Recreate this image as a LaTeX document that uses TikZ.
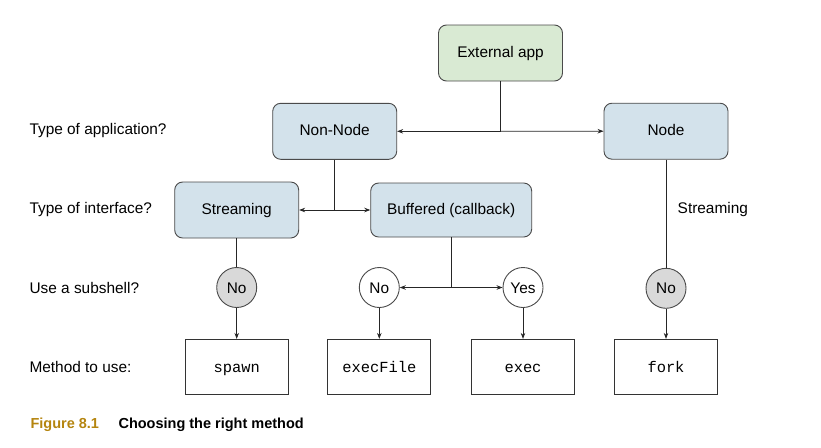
\documentclass[tikz,border=0pt]{standalone}
\usepackage{fontspec}
\setmainfont{Liberation Sans}
\setmonofont{Liberation Mono}
\usetikzlibrary{arrows.meta}
\definecolor{greenfill}{HTML}{D9EAD3}
\definecolor{bluefill}{HTML}{D3E2EB}
\definecolor{greyfill}{HTML}{D9D9D9}
\definecolor{edgecol}{HTML}{4A4A4A}
\definecolor{capcol}{HTML}{B5850F}
\begin{document}
\begin{tikzpicture}[x=1pt,y=-1pt,
  font=\fontsize{15.4}{18}\selectfont,
  rbox/.style={draw=edgecol, line width=0.9pt, rounded corners=8pt, fill=bluefill,
    minimum width=124pt, minimum height=56pt, inner sep=0pt, text height=11pt, text depth=3pt},
  gbox/.style={rbox, fill=greenfill},
  mbox/.style={draw=black!80, line width=0.8pt, fill=white, minimum width=103pt,
    minimum height=55pt, inner sep=0pt, text height=13pt, text depth=2pt,
    font=\fontsize{15.4}{18}\selectfont\ttfamily},
  circw/.style={circle, draw=edgecol, line width=0.9pt, fill=white, minimum size=40pt,
    inner sep=0pt, text height=11pt, text depth=0pt},
  circg/.style={circw, fill=greyfill},
  qlabel/.style={anchor=west},
  conn/.style={draw=black!85, line width=0.8pt},
  arr/.style={-{Stealth[length=6pt,width=4.5pt]}}
]
\useasboundingbox (0,0) rectangle (821,447);

% row labels
\node[qlabel] (q1) at (26,131) {Type of application?};
\node[qlabel] (q2) at (26,210) {Type of interface?};
\node[qlabel] (q3) at (26,288) {Use a subshell?};
\node[qlabel] (q4) at (26,367) {Method to use:};

% boxes
\node[gbox] (ext) at (500.5,53) {External app};
\node[rbox] (nonnode) at (334.7,131.3) {Non-Node};
\node[rbox] (nodeb) at (666,131.2) {Node};
\node[rbox] (stream) at (236.7,210) {Streaming};
\node[rbox, minimum width=161pt, minimum height=54pt] (buff) at (451.2,210) {Buffered (callback)};

% circles
\node[circg] (no1) at (236.7,287.5) {No};
\node[circw] (no2) at (379.3,287.5) {No};
\node[circw] (yes) at (523,287.5) {Yes};
\node[circg] (no3) at (666,288.3) {No};

% method boxes
\node[mbox] (spawn) at (236.7,366.8) {spawn};
\node[mbox] (execfile) at (379.3,366.8) {execFile};
\node[mbox] (exec) at (523,366.8) {exec};
\node[mbox] (fork) at (666,366.8) {fork};

% connectors
\coordinate (j1) at (ext.south |- nonnode.east);
\draw[conn] (ext.south) -- (j1);
\draw[conn,arr] (j1) -- (nonnode.east);
\draw[conn,arr] (j1) -- (nodeb.west);

\coordinate (j2) at (nonnode.south |- stream.east);
\draw[conn] (nonnode.south) -- (j2);
\draw[conn,arr] (j2) -- (stream.east);
\draw[conn,arr] (j2) -- (buff.west);

\coordinate (j3) at (buff.south |- no2.east);
\draw[conn] (buff.south) -- (j3);
\draw[conn,arr] (j3) -- (no2.east);
\draw[conn,arr] (j3) -- (yes.west);

\draw[conn] (stream.south) -- (no1.north);
\draw[conn] (nodeb.south) -- node[pos=0.46, anchor=west, xshift=8pt] (slabel) {Streaming} (no3.north);

\draw[conn,arr] (no1.south) -- (spawn.north);
\draw[conn,arr] (no2.south) -- (execfile.north);
\draw[conn,arr] (yes.south) -- (exec.north);
\draw[conn,arr] (no3.south) -- (fork.north);

% caption
\node[anchor=west, text=capcol, font=\fontsize{14.5}{17}\selectfont\bfseries] (figno) at (27,425) {Figure 8.1};
\node[anchor=west, font=\fontsize{14.5}{17}\selectfont\bfseries] (figcap) at (115,425) {Choosing the right method};
\end{tikzpicture}
\end{document}
